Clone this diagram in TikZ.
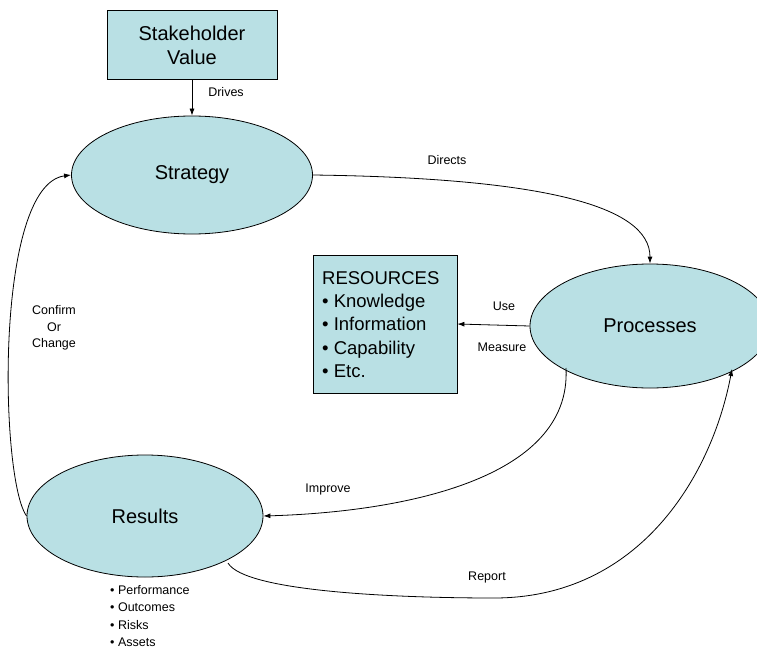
\documentclass[tikz,border=0pt]{standalone}
\usepackage{fontspec}
\setmainfont{Liberation Sans}
\usetikzlibrary{shapes.geometric,arrows.meta}
\definecolor{teal1}{RGB}{185,224,228}
\tikzset{
  box/.style={draw=black, fill=teal1, line width=0.8pt, inner sep=0pt},
  oval/.style={ellipse, draw=black, fill=teal1, line width=0.8pt, inner sep=0pt, font=\fontsize{20}{24}\selectfont},
  conn/.style={line width=0.8pt, -{Latex[length=7pt,width=5pt]}},
  lbl/.style={font=\fontsize{12.5}{15}\selectfont, inner sep=0pt}
}
\begin{document}
\begin{tikzpicture}[x=1pt,y=-1pt]
\useasboundingbox (0,0) rectangle (757,650);
% boxes
\node[box, minimum width=170pt, minimum height=69pt, align=center, font=\fontsize{20}{24}\selectfont] (sv) at (192,45) {Stakeholder\\Value};
\node[box, minimum width=144pt, minimum height=138pt] (res) at (385,324) {};
\node[anchor=north west, align=left, inner sep=0pt, font=\fontsize{18.5}{23.3}\selectfont] (restext) at (322,271) {RESOURCES\\\textbullet{} Knowledge\\\textbullet{} Information\\\textbullet{} Capability\\\textbullet{} Etc.};
% ellipses
\node[oval, minimum width=241pt, minimum height=118pt] (strat) at (192,175) {Strategy};
\node[oval, minimum width=240pt, minimum height=124pt] (proc) at (650,326) {Processes};
\node[oval, minimum width=236pt, minimum height=122pt] (resu) at (145,516) {Results};
% bullets
\node[anchor=north west, align=left, inner sep=0pt, font=\fontsize{12.5}{17.5}\selectfont] (bul) at (110,585) {\textbullet{} Performance\\\textbullet{} Outcomes\\\textbullet{} Risks\\\textbullet{} Assets};
% connectors
\coordinate (pl) at (proc.west);
\coordinate (pbl) at (566,368);
\coordinate (pbr) at (732,369);
\coordinate (rbr) at (228,563);
\coordinate (rlow) at (494,598);
\draw[conn] (sv.south) -- (strat.north);
\draw[conn] (strat.east) .. controls (540,178) and (650,205) .. (proc.north);
\draw[conn] (pl) -- (res.east);
\draw[conn] (pbl) .. controls (572,480) and (400,512) .. (resu.east);
\draw[conn] (rbr) .. controls (245,592) and (400,598) .. (rlow) .. controls (640,598) and (712,475) .. (pbr);
\draw[conn] (resu.west) .. controls (0,480) and (-6,185) .. (strat.west);
% labels
\node[lbl] (ldrives) at (226,92) {Drives};
\node[lbl] (ldirects) at (447,160) {Directs};
\node[lbl] (luse) at (504,306) {Use};
\node[lbl] (lmeasure) at (502,347) {Measure};
\node[lbl] (limprove) at (328,489) {Improve};
\node[lbl] (lreport) at (487,577) {Report};
\node[lbl, align=center, font=\fontsize{12.5}{16.5}\selectfont] (lconfirm) at (54,328) {Confirm\\Or\\Change};
\end{tikzpicture}
\end{document}
